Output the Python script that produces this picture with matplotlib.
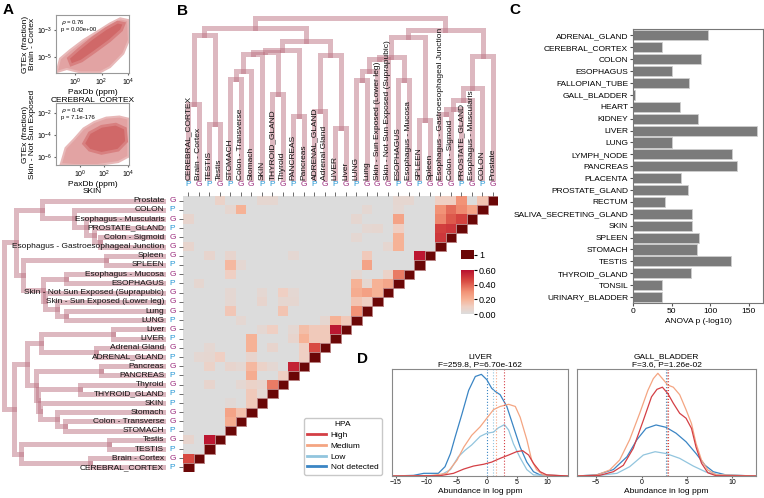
import numpy as np
import matplotlib
matplotlib.use('Agg')
import matplotlib.pyplot as plt
from matplotlib.colors import LinearSegmentedColormap, ListedColormap
from matplotlib.lines import Line2D
from matplotlib.patches import Polygon, Rectangle
from matplotlib.cm import ScalarMappable
from matplotlib.colors import Normalize

plt.rcParams['font.family'] = ['Liberation Sans', 'DejaVu Sans']

W, H = 764, 498

# ---------------- panel A : scatter clouds (outline, log10 units)
cloud1_outer_x = [-1.38, -0.62, 0.38, 1.88, 2.63, 3.63, 4.05, 4.0, 3.4, 2.63, 1.63, 0.62, -0.38, -1.13]
cloud1_outer_y = [-6.13, -5.9, -6.15, -6.15, -5.76, -4.75, -3.75, -2.25, -2.12, -2.5, -3.13, -3.75, -4.5, -5.13]
cloud1_core_x = [-0.3, 0.5, 1.5, 2.6, 3.5, 3.7, 3.2, 2.3, 1.3, 0.3, -0.5]
cloud1_core_y = [-5.6, -5.3, -4.6, -3.8, -3.0, -2.5, -2.4, -2.9, -3.6, -4.4, -5.1]
cloud2_outer_x = [-1.6, -1.2, -0.5, 0.3, 1.2, 2.2, 3.3, 4.05, 4.05, 3.2, 1.5, -0.5]
cloud2_outer_y = [-6.7, -5.2, -4.4, -3.4, -2.8, -2.4, -2.3, -2.5, -6.0, -6.5, -6.77, -6.77]
cloud2_core_x = [0.3, 0.8, 1.8, 3.0, 3.8, 3.9, 3.2, 1.8, 0.8]
cloud2_core_y = [-4.8, -3.8, -3.2, -3.0, -3.4, -4.6, -5.4, -5.7, -5.4]

# ---------------- panel B : tissues, clustering and correlations
tissues = ['CEREBRAL_CORTEX', 'Brain - Cortex', 'TESTIS', 'Testis', 'STOMACH',
           'Colon - Transverse', 'Stomach', 'SKIN', 'THYROID_GLAND', 'Thyroid',
           'PANCREAS', 'Pancreas', 'ADRENAL_GLAND', 'Adrenal Gland', 'LIVER', 'Liver',
           'LUNG', 'Lung', 'Skin - Sun Exposed (Lower leg)',
           'Skin - Not Sun Exposed (Suprapubic)', 'ESOPHAGUS', 'Esophagus - Mucosa',
           'SPLEEN', 'Spleen', 'Esophagus - Gastroesophageal Junction', 'Colon - Sigmoid',
           'PROSTATE_GLAND', 'Esophagus - Muscularis', 'COLON', 'Prostate']
sources = ['P', 'G', 'P', 'G', 'P', 'G', 'G', 'P', 'P', 'G', 'P', 'G', 'P', 'G', 'P',
           'G', 'P', 'G', 'G', 'G', 'P', 'G', 'P', 'G', 'G', 'G', 'P', 'G', 'P', 'G']

# (child a, child b, height); new nodes numbered from 30 in order
merges = [(25, 24, 190), (26, 30, 207), (27, 31, 232), (28, 32, 268), (29, 33, 365),
          (22, 23, 172), (20, 21, 293), (16, 17, 293), (18, 37, 320), (19, 38, 355),
          (36, 39, 360), (35, 40, 420), (34, 41, 442),
          (10, 11, 185), (8, 9, 250), (4, 5, 295), (6, 45, 320), (7, 46, 370),
          (44, 47, 375), (43, 48, 382), (14, 15, 150), (12, 13, 200), (50, 51, 368),
          (52, 49, 410), (2, 3, 162), (0, 1, 220), (54, 55, 428), (56, 53, 448),
          (57, 42, 478)]

corr_pairs = [
    (29, 3, 0.08), (29, 7, 0.05), (29, 8, 0.05), (29, 20, 0.05), (29, 21, 0.05),
    (29, 24, 0.1), (29, 25, 0.1), (29, 26, 0.3), (29, 28, 0.14),
    (28, 4, 0.05), (28, 5, 0.2), (28, 17, 0.04), (28, 20, 0.04), (28, 24, 0.3),
    (28, 25, 0.38), (28, 26, 0.32), (28, 27, 0.25),
    (27, 0, 0.06), (27, 16, 0.05), (27, 20, 0.25), (27, 24, 0.33), (27, 25, 0.42), (27, 26, 0.47),
    (26, 17, 0.04), (26, 18, 0.05), (26, 20, 0.1), (26, 24, 0.48), (26, 25, 0.5),
    (25, 16, 0.04), (25, 20, 0.2), (25, 24, 0.5),
    (24, 0, 0.06), (24, 19, 0.05), (24, 20, 0.2),
    (23, 2, 0.06), (23, 4, 0.06), (23, 10, 0.04), (23, 17, 0.12), (23, 22, 0.58),
    (22, 4, 0.18), (22, 5, 0.04), (22, 17, 0.25),
    (21, 4, 0.1), (21, 16, 0.04), (21, 19, 0.08), (21, 20, 0.35),
    (20, 1, 0.05), (20, 16, 0.2), (20, 17, 0.05), (20, 18, 0.2), (20, 19, 0.24),
    (19, 4, 0.04), (19, 7, 0.04), (19, 9, 0.1), (19, 10, 0.04), (19, 16, 0.22),
    (19, 17, 0.26), (19, 18, 0.2),
    (18, 4, 0.04), (18, 7, 0.06), (18, 9, 0.05), (18, 10, 0.05), (18, 16, 0.14), (18, 17, 0.1),
    (17, 4, 0.13), (17, 9, 0.14), (17, 16, 0.3),
    (16, 5, 0.04), (16, 13, 0.05), (16, 14, 0.2), (16, 15, 0.12),
    (15, 7, 0.04), (15, 8, 0.1), (15, 10, 0.04), (15, 11, 0.16), (15, 12, 0.12),
    (15, 13, 0.12), (15, 14, 0.58),
    (14, 6, 0.2), (14, 10, 0.06), (14, 11, 0.2), (14, 12, 0.12), (14, 13, 0.12),
    (13, 2, 0.04), (13, 6, 0.2), (13, 8, 0.06), (13, 11, 0.1), (13, 12, 0.45),
    (12, 1, 0.04), (12, 2, 0.05), (12, 3, 0.1), (12, 6, 0.06), (12, 11, 0.1),
    (11, 2, 0.08), (11, 4, 0.06), (11, 5, 0.04), (11, 6, 0.18), (11, 7, 0.08),
    (11, 8, 0.04), (11, 10, 0.55),
    (10, 6, 0.22), (10, 9, 0.1),
    (9, 2, 0.06), (9, 5, 0.04), (9, 6, 0.08), (9, 7, 0.06), (9, 8, 0.35),
    (8, 6, 0.12), (8, 7, 0.04), (7, 4, 0.03), (7, 6, 0.12),
    (6, 4, 0.25), (6, 5, 0.15), (5, 4, 0.22),
    (3, 0, 0.06), (3, 2, 0.58), (1, 0, 0.45)]

# ---------------- panel C
c_tissues = ['ADRENAL_GLAND', 'CEREBRAL_CORTEX', 'COLON', 'ESOPHAGUS', 'FALLOPIAN_TUBE',
             'GALL_BLADDER', 'HEART', 'KIDNEY', 'LIVER', 'LUNG', 'LYMPH_NODE', 'PANCREAS',
             'PLACENTA', 'PROSTATE_GLAND', 'RECTUM', 'SALIVA_SECRETING_GLAND', 'SKIN',
             'SPLEEN', 'STOMACH', 'TESTIS', 'THYROID_GLAND', 'TONSIL', 'URINARY_BLADDER']
anova_p = [97, 37, 88, 50, 73, 2, 61, 84, 161, 50, 128, 135, 62, 71, 41, 76, 76, 86,
           83, 127, 75, 38, 37]

# ---------------- panel D (density curves, relative units)
hpa_levels = ['High', 'Medium', 'Low', 'Not detected']
hpa_colors = ['#d43f45', '#f4a582', '#92c5de', '#3a85c4']

liver_x = {
    'Not detected': [-15.6, -12.1, -10.4, -8.0, -6.9, -6.0, -5.2, -4.1, -3.0, -1.9, -0.9, 0.0,
                     0.8, 1.4, 2.2, 3.3, 4.4, 5.5, 6.6, 7.7, 8.8, 13.4],
    'Medium': [-15.6, -9.3, -6.6, -4.9, -3.8, -2.5, -1.1, 0.0, 1.1, 2.2, 3.6, 4.7, 5.5, 6.6,
               7.4, 8.2, 9.3, 13.4],
    'Low': [-15.6, -7.7, -6.0, -4.7, -3.6, -2.5, -1.1, 0.0, 1.1, 1.9, 2.9, 3.6, 4.4, 5.5,
            6.6, 7.7, 13.4],
    'High': [-15.6, -7.7, -5.5, -3.8, -2.2, -0.5, 0.8, 2.2, 3.6, 4.9, 5.9, 6.9, 7.7, 8.8,
             9.9, 13.4]}
liver_y = {
    'Not detected': [0, 0.6, 2.5, 2.5, 8.7, 21, 37, 58, 80, 93, 95, 90, 82, 79, 76, 65, 46,
                     27, 13, 4, 1, 0],
    'Medium': [0, 0.3, 2.5, 15, 27, 38, 46, 54, 62, 65, 67, 65, 55, 34, 15, 6, 1, 0],
    'Low': [0, 0.6, 6, 18, 24, 29, 37, 40, 41, 45, 48, 43, 30, 17, 6, 1, 0],
    'High': [0, 0.3, 2.5, 6.5, 9.3, 11, 13, 16.5, 19.6, 22.7, 23.7, 19.6, 11.8, 4, 1, 0]}
liver_means = [2.9, 1.5, 1.0, 0.0]

gall_x = {
    'Medium': [-7.1, -4.9, -3.5, -2.4, -1.3, -0.2, 0.7, 1.3, 1.8, 2.4, 2.9, 3.5, 4.2, 4.9,
               5.5, 6.0, 6.6, 7.3, 8.2, 12.6],
    'High': [-7.1, -4.6, -3.1, -2.0, -0.9, 0.2, 1.1, 1.7, 2.3, 2.9, 3.5, 4.2, 4.9, 5.5,
             6.0, 6.6, 7.3, 8.2, 12.6],
    'Not detected': [-7.1, -4.9, -3.1, -1.6, -0.5, 0.5, 1.6, 2.7, 3.8, 4.9, 6.0, 7.0, 7.9,
                     9.3, 12.6],
    'Low': [-7.1, -4.6, -2.7, -1.3, 0.2, 1.5, 2.7, 4.2, 5.7, 7.1, 8.6, 12.6]}
gall_y = {
    'Medium': [0, 1, 5.6, 15, 34, 58.6, 80, 91, 96, 90, 85, 83, 76, 62, 49, 30.5, 15, 5.6,
               1.2, 0],
    'High': [0, 0.6, 4, 10, 26, 52, 74, 81, 83, 77, 68, 58.6, 54, 44.5, 27, 12, 3, 0.3, 0],
    'Not detected': [0, 1.2, 6, 18, 34, 44.5, 47.7, 45.5, 40, 32, 21, 10, 4, 1, 0],
    'Low': [0, 0.6, 2.5, 8.7, 19.6, 22.7, 21, 16.5, 9.3, 3.7, 1, 0]}
gall_means = [2.9, 2.8, 2.75, 2.7]


def px_axes(fig, x0, y0, x1, y1):
    return fig.add_axes([x0 / W, 1 - y1 / H, (x1 - x0) / W, (y1 - y0) / H])


def tree_segments(merge_list, n):
    pos = {i: float(i) for i in range(n)}
    hgt = {i: 0.0 for i in range(n)}
    segs = []
    for k, (a, b, h) in enumerate(merge_list):
        segs.append(([pos[a], pos[a], pos[b], pos[b]], [hgt[a], h, h, hgt[b]]))
        pos[n + k] = (pos[a] + pos[b]) / 2
        hgt[n + k] = h
    return segs


fig = plt.figure(figsize=(W / 100, H / 100), dpi=100)

# ---------- A
for (x0, y0, x1, y1), outer, core, xl, yl, yt, ylab, xlab, txt in [
        ((56, 15, 129, 73), (cloud1_outer_x, cloud1_outer_y), (cloud1_core_x, cloud1_core_y),
         (-1.43, 4.06), (-6.2, -1.87), [1e-5, 1e-3], 'GTEx (fraction)\nBrain - Cortex',
         'PaxDb (ppm)\nCEREBRAL_CORTEX', '$\\rho$ = 0.76\np = 0.00e+00'),
        ((56, 103, 129, 165), (cloud2_outer_x, cloud2_outer_y), (cloud2_core_x, cloud2_core_y),
         (-2.0, 4.1), (-6.77, -1.05), [1e-6, 1e-4, 1e-2], 'GTEx (fraction)\nSkin - Not Sun Exposed',
         'PaxDb (ppm)\nSKIN', '$\\rho$ = 0.42\np = 7.1e-176')]:
    ax = px_axes(fig, x0, y0, x1, y1)
    ax.set_xscale('log')
    ax.set_yscale('log')
    ax.add_patch(Polygon(np.column_stack([10.0 ** np.array(outer[0]), 10.0 ** np.array(outer[1])]),
                         closed=True, facecolor='#e2a3a3', edgecolor='#e8b8b8', lw=1.5))
    ax.add_patch(Polygon(np.column_stack([10.0 ** np.array(core[0]), 10.0 ** np.array(core[1])]),
                         closed=True, facecolor='#d06868', edgecolor='#d88080', lw=2))
    ax.set_xlim(10 ** xl[0], 10 ** xl[1])
    ax.set_ylim(10 ** yl[0], 10 ** yl[1])
    ax.set_xticks([1, 100, 1e4])
    ax.set_yticks(yt)
    ax.minorticks_off()
    ax.tick_params(labelsize=5, length=1.5, pad=1, color='#666666')
    for s in ax.spines.values():
        s.set_color('#999999')
    ax.set_ylabel(ylab, fontsize=6, labelpad=1, linespacing=1.0)
    ax.set_xlabel(xlab, fontsize=6, labelpad=1, linespacing=1.0)
    ax.text(0.07, 0.95, txt, transform=ax.transAxes, fontsize=4.3, va='top', linespacing=1.1)

# ---------- B
n = len(tissues)
segs = tree_segments(merges, n)
dcol = '#bd7383'
ax_top = px_axes(fig, 183, 18, 498, 178)
for xs, ys in segs:
    ax_top.plot(xs, ys, color=dcol, alpha=0.5, lw=3.6, solid_joinstyle='miter', clip_on=False)
ax_top.set_xlim(-0.5, n - 0.5)
ax_top.set_ylim(0, 478)
ax_top.axis('off')

ax_left = px_axes(fig, 4, 196, 163, 472)
for xs, ys in segs:
    ax_left.plot(ys, xs, color=dcol, alpha=0.5, lw=3.6, solid_joinstyle='miter', clip_on=False)
ax_left.set_ylim(-0.5, n - 0.5)
ax_left.set_xlim(478, 0)
ax_left.axis('off')

M = np.full((n, n), np.nan)
for i in range(n):
    for j in range(i):
        M[i, j] = 0.0
for i, j, v in corr_pairs:
    M[i, j] = v

cmap = LinearSegmentedColormap.from_list('gr', [(0, '#dcdcdc'), (0.1 / 0.6, '#efcfc3'),
                                                (0.2 / 0.6, '#f6b296'), (0.3 / 0.6, '#f29477'),
                                                (0.45 / 0.6, '#d84b42'), (1, '#b8102e')])
dark = '#6b0707'
ax_h = px_axes(fig, 183, 196, 498, 472)
edges = np.arange(n + 1) - 0.5
ax_h.pcolormesh(edges, edges, np.ma.masked_invalid(M), cmap=cmap, vmin=0, vmax=0.6)
for i in range(n):
    ax_h.add_patch(Rectangle((i - 0.5, i - 0.5), 1, 1, facecolor=dark,
                             edgecolor='#b98080', lw=0.7))
ax_h.set_xlim(-0.5, n - 0.5)
ax_h.set_ylim(-0.5, n - 0.5)
for s in ax_h.spines.values():
    s.set_visible(False)
ax_h.xaxis.tick_top()
ax_h.set_xticks(range(n))
ax_h.set_yticks(range(n))
ax_h.set_xticklabels([])
ax_h.set_yticklabels([])
ax_h.tick_params(length=3, width=0.6, color='#555555')
src_col = {'P': '#2496d4', 'G': '#9a2a7c'}
for k in range(n):
    c = src_col[sources[k]]
    ax_h.annotate(sources[k], xy=(k, 1), xycoords=('data', 'axes fraction'), xytext=(0, 8),
                  textcoords='offset points', ha='center', va='center', fontsize=6, color=c,
                  annotation_clip=False)
    ax_h.annotate(tissues[k], xy=(k, 1), xycoords=('data', 'axes fraction'), xytext=(0, 11.3),
                  textcoords='offset points', ha='center', va='bottom', rotation=90, fontsize=6,
                  color='#111111', annotation_clip=False)
    ax_h.annotate(sources[k], xy=(0, k), xycoords=('axes fraction', 'data'), xytext=(-7.6, 0),
                  textcoords='offset points', ha='center', va='center', fontsize=6, color=c,
                  annotation_clip=False)
    ax_h.annotate(tissues[k], xy=(0, k), xycoords=('axes fraction', 'data'), xytext=(-13.5, 0),
                  textcoords='offset points', ha='right', va='center', fontsize=6,
                  color='#111111', annotation_clip=False)

ax_c1 = px_axes(fig, 461, 250, 474, 259)
ax_c1.pcolormesh([[1.0]], cmap=ListedColormap([dark]))
ax_c1.set_xticks([])
ax_c1.yaxis.tick_right()
ax_c1.set_yticks([0.5])
ax_c1.set_yticklabels(['1'])
ax_c1.tick_params(labelsize=6.5, length=2.5, pad=1)
for s in ax_c1.spines.values():
    s.set_visible(False)
ax_c2 = px_axes(fig, 461, 270, 474, 314)
cb = fig.colorbar(ScalarMappable(norm=Normalize(0, 0.6), cmap=cmap), cax=ax_c2,
                  ticks=[0, 0.2, 0.4, 0.6], format='%.2f')
cb.outline.set_visible(False)
ax_c2.tick_params(labelsize=6.5, length=2.5, pad=1)

# ---------- C
ax_C = px_axes(fig, 633, 29, 763, 303)
ax_C.barh(range(len(c_tissues)), anova_p, height=0.85, color='#7b7b7b', edgecolor='#cfcfcf', lw=0.6)
ax_C.set_ylim(len(c_tissues) - 0.5, -0.54)
ax_C.set_xlim(0, 168.7)
ax_C.set_yticks(range(len(c_tissues)))
ax_C.set_yticklabels(c_tissues)
ax_C.set_xticks([0, 50, 100, 150])
ax_C.tick_params(labelsize=6, length=2.5, pad=1, color='#555555')
for s in ax_C.spines.values():
    s.set_color('#777777')
ax_C.set_xlabel('ANOVA p (-log10)', fontsize=6, labelpad=2)

# ---------- D
for (x0, x1), xs, ys, means, xlim, xt, title in [
        ((392, 568), liver_x, liver_y, liver_means, (-15.65, 13.4), [-15, -10, -5, 0, 5, 10],
         'LIVER\nF=259.8, P=6.70e-162'),
        ((577, 756), gall_x, gall_y, gall_means, (-7.1, 12.6), [-5, 0, 5, 10],
         'GALL_BLADDER\nF=3.6, P=1.26e-02')]:
    ax = px_axes(fig, x0, 369, x1, 476)
    for lev, col, mu in zip(hpa_levels[::-1], hpa_colors[::-1], means[::-1]):
        ax.plot(xs[lev], ys[lev], color=col, lw=0.9)
        ax.axvline(mu, color=col, lw=0.8, ls=':')
    ax.set_xlim(*xlim)
    ax.set_ylim(0, 100)
    ax.set_yticks([])
    ax.set_xticks(xt)
    ax.tick_params(labelsize=5, length=1.5, pad=1, color='#666666')
    for s in ax.spines.values():
        s.set_color('#888888')
    ax.set_xlabel('Abundance in log ppm', fontsize=6, labelpad=1)
    ax.set_title(title, fontsize=6, pad=2, linespacing=1.1)

handles = [Line2D([], [], color=c, lw=2) for c in hpa_colors]
leg = fig.legend(handles, hpa_levels, title='HPA', loc='upper left',
                 bbox_to_anchor=(304 / W, 1 - 418 / H), fontsize=6, title_fontsize=6,
                 frameon=True, borderaxespad=0, handlelength=2.2, labelspacing=0.35,
                 borderpad=0.4, handletextpad=0.6)
leg.get_frame().set_edgecolor('#bbbbbb')

# panel letters
for letter, x, y in [('A', 8, 10), ('B', 183, 11), ('C', 515, 10), ('D', 362, 359)]:
    fig.text(x / W, 1 - y / H, letter, fontsize=11, fontweight='bold', ha='center', va='center')

fig.savefig('out.png', dpi=100)
